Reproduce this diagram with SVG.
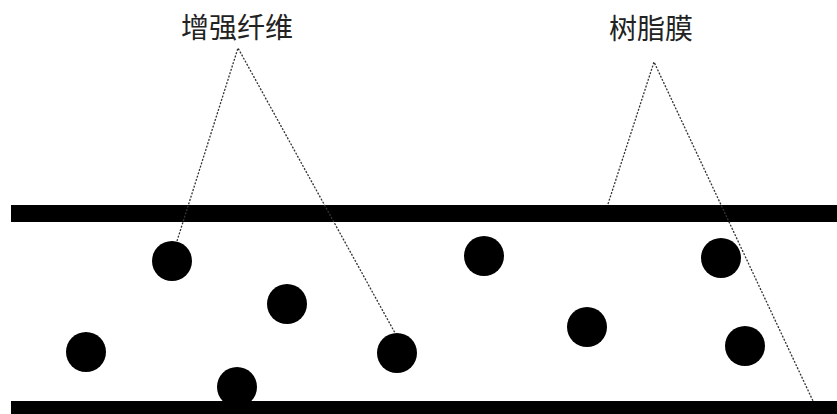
<svg xmlns="http://www.w3.org/2000/svg" width="837" height="414" viewBox="0 0 837 414">
<style>
.bar{fill:#000}
.fiber{fill:#000}
.lbl{font-family:"Noto Sans CJK SC","Noto Sans CJK JP",sans-serif;font-size:28px;fill:#222;text-anchor:middle}
.lead{fill:none;stroke:#333;stroke-width:1.3;stroke-dasharray:2 1.5}
</style>
<rect width="837" height="414" fill="#fff"/>
<g id="resin-film">
<rect class="bar" x="11" y="205" width="826" height="17"/>
<rect class="bar" x="11" y="401" width="826" height="13"/>
</g>
<g id="fibers">
<circle class="fiber" cx="172" cy="261" r="20"/>
<circle class="fiber" cx="287" cy="304" r="20"/>
<circle class="fiber" cx="86" cy="352" r="20"/>
<circle class="fiber" cx="237" cy="387" r="20"/>
<circle class="fiber" cx="397" cy="353" r="20"/>
<circle class="fiber" cx="484" cy="256" r="20"/>
<circle class="fiber" cx="587" cy="327" r="20"/>
<circle class="fiber" cx="721" cy="258" r="20"/>
<circle class="fiber" cx="745" cy="346" r="20"/>
</g>
<g id="label-fiber"><text class="lbl" x="237" y="38">增强纤维</text></g>
<g id="label-resin"><text class="lbl" x="651" y="39">树脂膜</text></g>
<g id="connectors">
<polyline class="lead" points="177,241 238,48 395,333"/>
<polyline class="lead" points="608,204 654,62 813,401"/>
</g>
</svg>
